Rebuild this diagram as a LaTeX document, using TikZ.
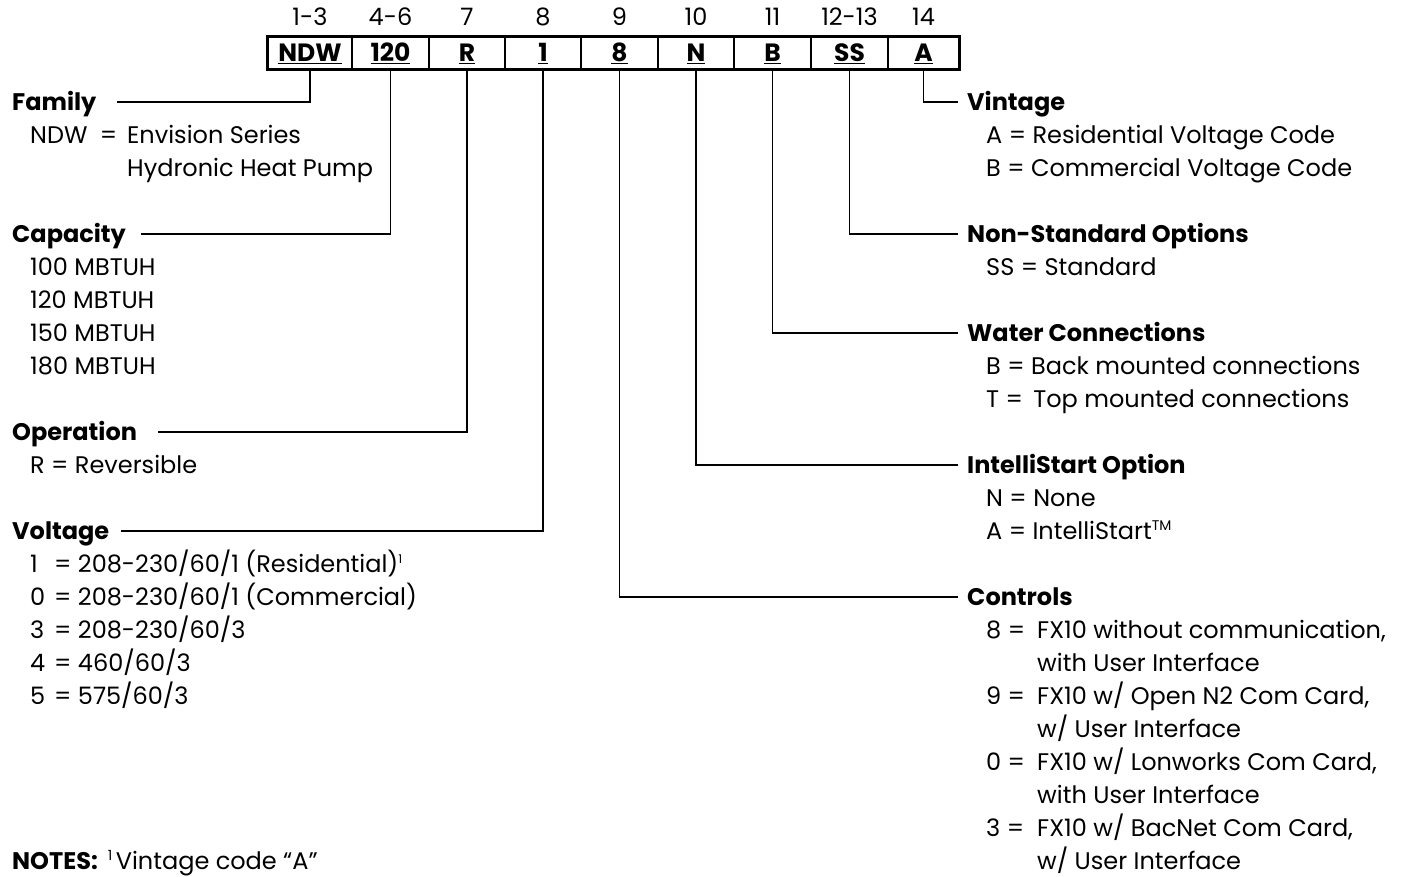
\documentclass[tikz,border=0pt]{standalone}
\usepackage{fontspec}
\setmainfont{Poppins}
\usetikzlibrary{calc}
\newcommand{\supnum}[1]{\textsuperscript{\fontsize{14}{14}\selectfont #1}}
\begin{document}
\begin{tikzpicture}[x=1pt,y=-1pt,
  base/.style={inner sep=0pt, text height=17pt, text depth=0pt, font=\fontsize{24}{33}\selectfont},
  txt/.style={base, anchor=west},
  ttl/.style={base, anchor=west, font=\fontsize{24}{33}\selectfont\bfseries},
  num/.style={base, anchor=center},
  cell/.style={draw, line width=2pt, inner sep=0pt, text height=17pt, text depth=0pt, minimum height=32pt, anchor=west, font=\fontsize{25}{33}\selectfont\bfseries},
  lead/.style={line width=1.3pt}
]
\useasboundingbox (0,0) rectangle (1413,877);
% code boxes
\node[cell, minimum width=84pt] (c1) at (267,53) {\underline{NDW}};
\node[cell, minimum width=77pt] (c2) at (351,53) {\underline{120}};
\node[cell, minimum width=76pt] (c3) at (428,53) {\underline{R}};
\node[cell, minimum width=76pt] (c4) at (504,53) {\underline{1}};
\node[cell, minimum width=77pt] (c5) at (580,53) {\underline{8}};
\node[cell, minimum width=76pt] (c6) at (657,53) {\underline{N}};
\node[cell, minimum width=77pt] (c7) at (733,53) {\underline{B}};
\node[cell, minimum width=77pt] (c8) at (810,53) {\underline{SS}};
\node[cell, minimum width=71pt] (c9) at (887,53) {\underline{A}};
\draw[line width=2.6pt] (c1.north west) rectangle (c9.south east);
% position numbers
\node[num] (n1) at ($(c1.north)+(0,-19)$) {1-3};
\node[num] (n2) at ($(c2.north)+(0,-19)$) {4-6};
\node[num] (n3) at ($(c3.north)+(0,-19)$) {7};
\node[num] (n4) at ($(c4.north)+(0,-19)$) {8};
\node[num] (n5) at ($(c5.north)+(0,-19)$) {9};
\node[num] (n6) at ($(c6.north)+(0,-19)$) {10};
\node[num] (n7) at ($(c7.north)+(0,-19)$) {11};
\node[num] (n8) at ($(c8.north)+(0,-19)$) {12-13};
\node[num] (n9) at ($(c9.north)+(0,-19)$) {14};
% left side
\node[ttl] (fam) at (12,102) {Family};
\node[txt] (fam1) at (30,135) {\makebox[97pt][l]{NDW\hfill=\hspace{10pt}}Envision Series};
\node[txt] (fam2) at (30,168) {\hspace{97pt}Hydronic Heat Pump};
\node[ttl] (cap) at (12,234) {Capacity};
\node[txt] (cap1) at (30,267) {100 MBTUH};
\node[txt] (cap2) at (30,300) {120 MBTUH};
\node[txt] (cap3) at (30,333) {150 MBTUH};
\node[txt] (cap4) at (30,366) {180 MBTUH};
\node[ttl] (op) at (12,432) {Operation};
\node[txt] (op1) at (30,465) {R = Reversible};
\node[ttl] (volt) at (12,531) {Voltage};
\node[txt] (v1) at (30,564) {\makebox[24pt][l]{1}= 208-230/60/1 (Residential)\textsuperscript{\fontsize{12}{12}\selectfont 1}};
\node[txt] (v2) at (30,597) {\makebox[24pt][l]{0}= 208-230/60/1 (Commercial)};
\node[txt] (v3) at (30,630) {\makebox[24pt][l]{3}= 208-230/60/3};
\node[txt] (v4) at (30,663) {\makebox[24pt][l]{4}= 460/60/3};
\node[txt] (v5) at (30,696) {\makebox[24pt][l]{5}= 575/60/3};
\node[txt] (notes) at (12,861) {\textbf{NOTES:}\hspace{10pt}\supnum{1}\hspace{3pt}Vintage code “A”};
% right side
\node[ttl] (vin) at (967,102) {Vintage};
\node[txt] (vin1) at (986,135) {A = Residential Voltage Code};
\node[txt] (vin2) at (986,168) {B = Commercial Voltage Code};
\node[ttl] (nso) at (967,234) {Non-Standard Options};
\node[txt] (nso1) at (986,267) {SS = Standard};
\node[ttl] (wat) at (967,333) {Water Connections};
\node[txt] (wat1) at (986,366) {B = Back mounted connections};
\node[txt] (wat2) at (986,399) {T = \,Top mounted connections};
\node[ttl] (int) at (967,465) {IntelliStart Option};
\node[txt] (int1) at (986,498) {N = None};
\node[txt] (int2) at (986,531) {A = IntelliStart\supnum{TM}};
\node[ttl] (ctl) at (967,597) {Controls};
\node[txt] (ct1) at (986,630) {\makebox[51pt][l]{8 =}FX10 without communication,};
\node[txt] (ct2) at (986,663) {\hspace{51pt}with User Interface};
\node[txt] (ct3) at (986,696) {\makebox[51pt][l]{9 =}FX10 w/ Open N2 Com Card,};
\node[txt] (ct4) at (986,729) {\hspace{51pt}w/ User Interface};
\node[txt] (ct5) at (986,762) {\makebox[51pt][l]{0 =}FX10 w/ Lonworks Com Card,};
\node[txt] (ct6) at (986,795) {\hspace{51pt}with User Interface};
\node[txt] (ct7) at (986,828) {\makebox[51pt][l]{3 =}FX10 w/ BacNet Com Card,};
\node[txt] (ct8) at (986,861) {\hspace{51pt}w/ User Interface};
% leader ends
\coordinate (eFam) at (117,102);
\coordinate (eCap) at (141,234);
\coordinate (eOp) at (158,432);
\coordinate (eVolt) at (121,531);
\coordinate (eVin) at (958,102);
\coordinate (eNso) at (958,234);
\coordinate (eWat) at (958,333);
\coordinate (eInt) at (958,465);
\coordinate (eCtl) at (958,597);
% leaders
\draw[lead] (c1.south) |- (eFam);
\draw[lead] (c2.south) |- (eCap);
\draw[lead] (c3.south) |- (eOp);
\draw[lead] (c4.south) |- (eVolt);
\draw[lead] (c5.south) |- (eCtl);
\draw[lead] (c6.south) |- (eInt);
\draw[lead] (c7.south) |- (eWat);
\draw[lead] (c8.south) |- (eNso);
\draw[lead] (c9.south) |- (eVin);
\end{tikzpicture}
\end{document}
